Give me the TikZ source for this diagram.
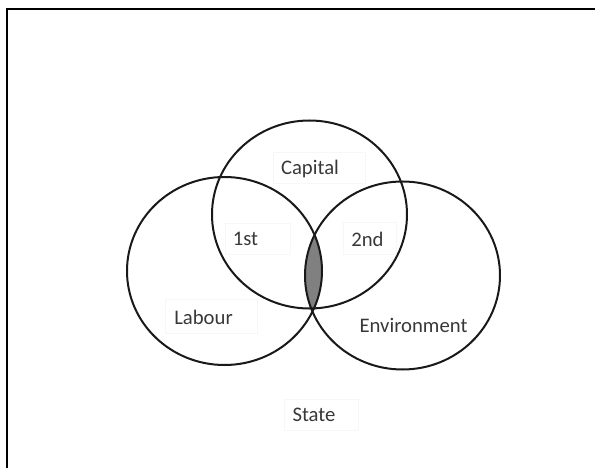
\documentclass[tikz,border=0pt]{standalone}
\usepackage{fontspec}
\setmainfont{Carlito}
\begin{document}
\begin{tikzpicture}[x=1pt,y=-1pt,
  ring/.style={draw=black!90, line width=2pt},
  lab/.style={anchor=base, text=black!78, font=\fontsize{20.7}{24}\selectfont, inner sep=0pt},
  faintbox/.style={draw=black!3, line width=0.6pt}]
\useasboundingbox (0,0) rectangle (595,468);
% frame (only top and left edges visible)
\draw[black, line width=2pt] (7,470) -- (7,9) -- (597,9);
% shaded lens
\begin{scope}
  \clip (224.5,271) ellipse [x radius=97.5, y radius=94];
  \clip (402.5,275.5) ellipse [x radius=97.5, y radius=94];
  \fill[black!50] (309.5,214.5) ellipse [x radius=97.5, y radius=94];
\end{scope}
% faint text boxes
\draw[faintbox] (273,152) rectangle (365,183);
\draw[faintbox] (225,223) rectangle (290,254);
\draw[faintbox] (343,222) rectangle (396,254);
\draw[faintbox] (165,299) rectangle (257,333);
\draw[faintbox] (284,399) rectangle (358,430);
% circles
\draw[ring] (309.5,214.5) ellipse [x radius=97.5, y radius=94];
\draw[ring] (224.5,271) ellipse [x radius=97.5, y radius=94];
\draw[ring] (402.5,275.5) ellipse [x radius=97.5, y radius=94];
% labels
\node[lab] (capital) at (310,175) {Capital};
\node[lab] (first) at (245.5,246) {1st};
\node[lab] (second) at (367.5,247) {2nd};
\node[lab] (labour) at (203.5,324) {Labour};
\node[lab] (environment) at (413.5,332) {Environment};
\node[lab] (state) at (314,421) {State};
\end{tikzpicture}
\end{document}
